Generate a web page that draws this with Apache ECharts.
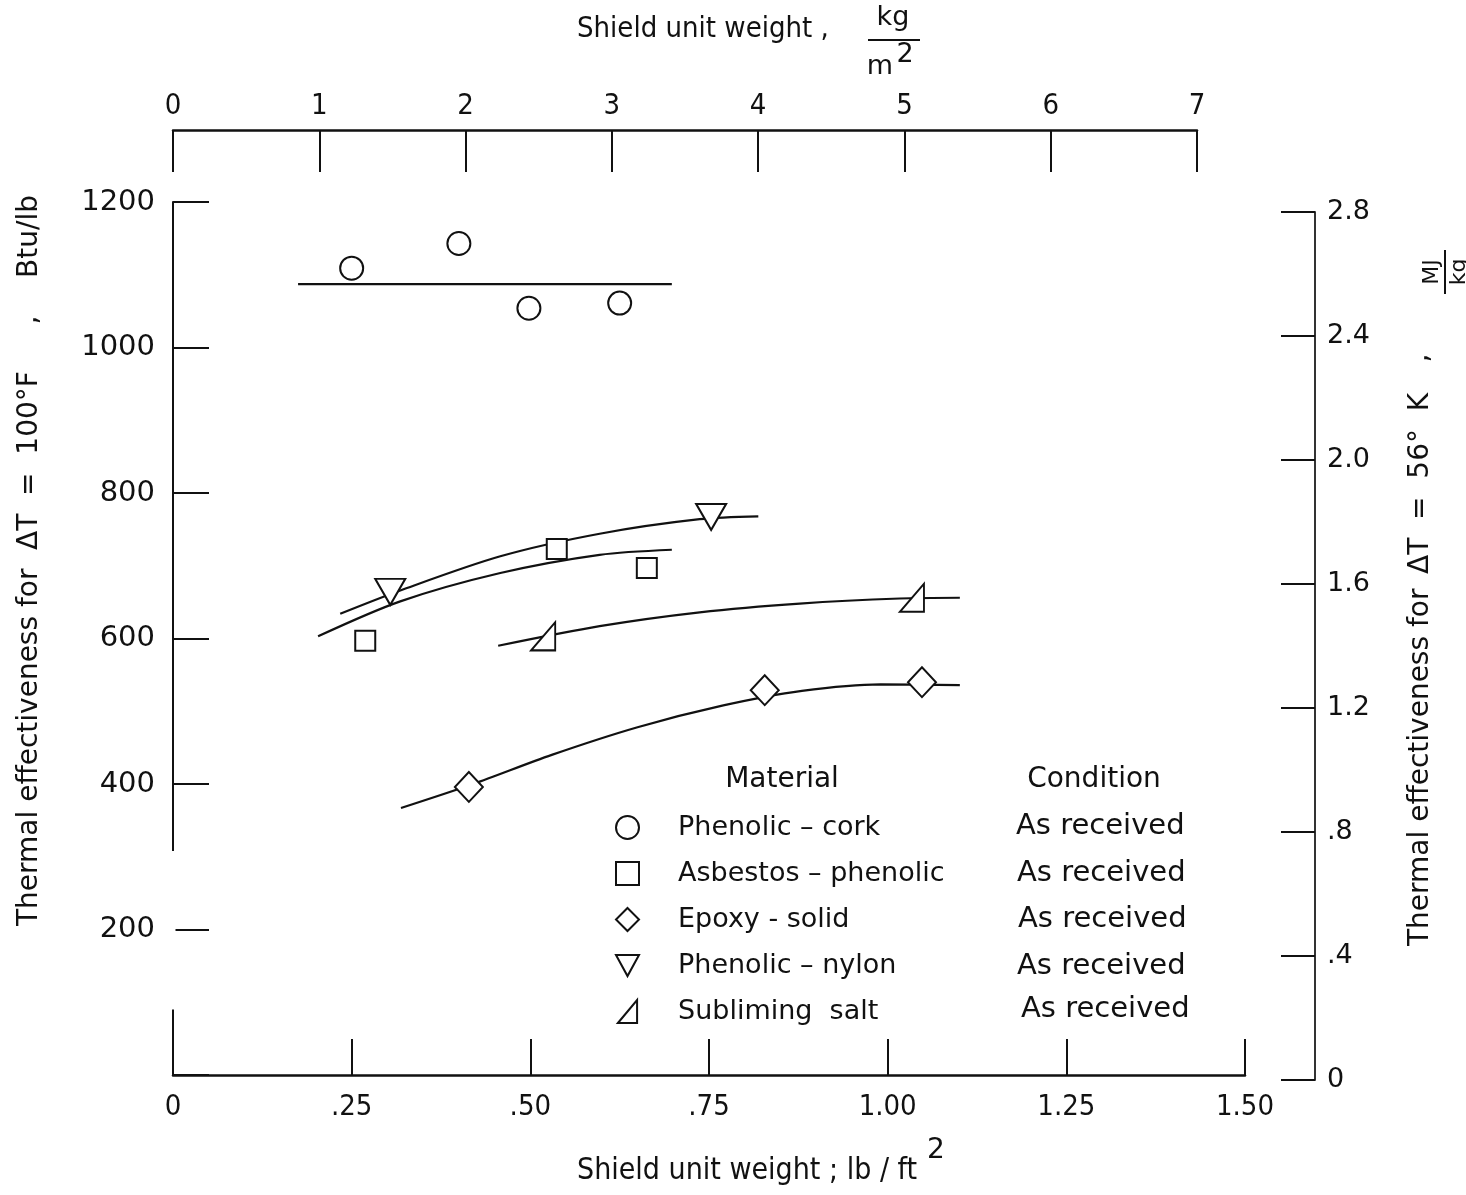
<!DOCTYPE html>
<html>
<head>
<meta charset="utf-8">
<script src="https://cdn.jsdelivr.net/npm/echarts@6/dist/echarts.min.js"></script>
<style>
html,body{margin:0;padding:0;background:#fff;}
#c{width:1466px;height:1195px;}
</style>
</head>
<body>
<div id="c"></div>
<script>
// ---- data (lb/ft^2 , Btu/lb) ----
const corkX = [0.250, 0.400, 0.498, 0.625];
const corkY = [1109, 1143, 1054, 1061];
const corkFitX = [0.175, 0.698];
const corkFitY = [1087, 1087];

const asbestosX = [0.269, 0.537, 0.663];
const asbestosY = [597, 723, 697];
const asbestosFitX = [0.203, 0.318, 0.458, 0.597, 0.698];
const asbestosFitY = [603, 651, 690, 715, 722];

const epoxyX = [0.414, 0.828, 1.048];
const epoxyY = [396, 529, 540];
const epoxyFitX = [0.319, 0.420, 0.530, 0.650, 0.770, 0.880, 0.990, 1.101];
const epoxyFitY = [367, 400, 440, 478, 508, 528, 537, 536];

const nylonX = [0.304, 0.753];
const nylonY = [664, 767];
const nylonFitX = [0.234, 0.318, 0.458, 0.597, 0.737, 0.819];
const nylonFitY = [634, 666, 713, 744, 764, 768];

const saltX = [0.518, 1.034];
const saltY = [603, 656];
const saltFitX = [0.455, 0.597, 0.737, 0.877, 1.017, 1.101];
const saltFitY = [590, 617, 636, 648, 655, 656];

const materials = ['Phenolic – cork', 'Asbestos – phenolic', 'Epoxy - solid', 'Phenolic – nylon', 'Subliming  salt'];
const conditions = ['As received', 'As received', 'As received', 'As received', 'As received'];

const bottomTicks = ['0', '.25', '.50', '.75', '1.00', '1.25', '1.50'];

const zip = (a, b) => a.map((v, i) => [v, b[i]]);

const NUM = '"DejaVu Sans", sans-serif';
const COND = '"DejaVu Sans Condensed", "Liberation Sans Narrow", "DejaVu Sans", sans-serif';
const BLK = '#111';

const hollow = {color: '#fff', borderColor: BLK, borderWidth: 2, opacity: 1};
const TRI_DOWN = 'path://M0,0 L12,0 L6,11 Z';
const TRI_SALT = 'path://M0,12 L10,0 L10,12 Z';

function scatter(name, x, y, symbol, size) {
  return {type: 'scatter', name, xAxisIndex: 0, yAxisIndex: 0, data: zip(x, y),
    symbol, symbolSize: size, itemStyle: hollow, z: 5, silent: true};
}
function fit(name, x, y) {
  return {type: 'line', name: name + ' fit', xAxisIndex: 0, yAxisIndex: 0, data: zip(x, y),
    smooth: 0.3, showSymbol: false, symbol: 'none', lineStyle: {color: BLK, width: 2.2}, z: 3, silent: true};
}

const chart = echarts.init(document.getElementById('c'), null, {renderer: 'canvas'});

const option = {
  backgroundColor: '#fff',
  animation: false,
  grid: [
    {left: 173, right: 221, top: 202, bottom: 120},
    {left: 173, right: 269, top: 130, height: 60},
    {right: 151, top: 212, bottom: 115, width: 100}
  ],
  xAxis: [
    {gridIndex: 0, type: 'value', min: 0, max: 1.5, interval: 0.25, position: 'bottom',
      axisLine: {onZero: false, lineStyle: {color: BLK, width: 2.5}},
      axisTick: {inside: true, length: 36, lineStyle: {color: BLK, width: 2}},
      axisLabel: {margin: 18, color: BLK, fontFamily: COND, fontSize: 29,
        formatter: (v) => bottomTicks[Math.round(v / 0.25)]},
      splitLine: {show: false}},
    {gridIndex: 1, type: 'value', min: 0, max: 7, interval: 1, position: 'top',
      axisLine: {onZero: false, lineStyle: {color: BLK, width: 2.5}},
      axisTick: {inside: true, length: 42, lineStyle: {color: BLK, width: 2}},
      axisLabel: {margin: 9, color: BLK, fontFamily: COND, fontSize: 29},
      splitLine: {show: false}},
    {gridIndex: 2, type: 'value', show: false}
  ],
  yAxis: [
    {gridIndex: 0, type: 'value', min: 0, max: 1200, interval: 200, position: 'left',
      axisLine: {show: true, onZero: false, lineStyle: {color: BLK, width: 2}},
      axisTick: {inside: true, length: 36, lineStyle: {color: BLK, width: 2}},
      axisLabel: {margin: 18, color: BLK, fontFamily: NUM, fontSize: 29,
        formatter: (v) => v === 0 ? '' : String(v)},
      splitLine: {show: false}},
    {gridIndex: 1, type: 'value', show: false},
    {gridIndex: 2, type: 'value', min: 0, max: 2.8, interval: 0.4, position: 'right',
      axisLine: {show: true, onZero: false, lineStyle: {color: '#333', width: 2}},
      axisTick: {inside: true, length: 34, lineStyle: {color: BLK, width: 2}},
      axisLabel: {margin: 12, color: BLK, fontFamily: NUM, fontSize: 27,
        formatter: (v) => {
          const r = Math.round(v * 10) / 10;
          if (r === 0) return '0';
          if (r < 1) return '.' + Math.round(r * 10);
          return r.toFixed(1);
        }},
      splitLine: {show: false}}
  ],
  legend: {
    orient: 'vertical', left: 610, top: 809, itemGap: 19, itemWidth: 23, itemHeight: 23,
    selectedMode: false,
    textStyle: {color: BLK, fontFamily: NUM, fontSize: 27, padding: [0, 0, 0, 34]},
    data: [
      {name: materials[0], icon: 'circle', itemStyle: hollow},
      {name: materials[1], icon: 'rect', itemStyle: hollow},
      {name: materials[2], icon: 'diamond', itemStyle: hollow},
      {name: materials[3], icon: TRI_DOWN, itemStyle: hollow},
      {name: materials[4], icon: TRI_SALT, itemStyle: hollow}
    ]
  },
  series: [
    scatter(materials[0], corkX, corkY, 'circle', 23),
    scatter(materials[1], asbestosX, asbestosY, 'rect', 20),
    scatter(materials[2], epoxyX, epoxyY, 'diamond', [28, 30]),
    scatter(materials[3], nylonX, nylonY, TRI_DOWN, [30, 26]),
    scatter(materials[4], saltX, saltY, TRI_SALT, [24, 28]),
    fit(materials[0], corkFitX, corkFitY),
    fit(materials[1], asbestosFitX, asbestosFitY),
    fit(materials[2], epoxyFitX, epoxyFitY),
    fit(materials[3], nylonFitX, nylonFitY),
    fit(materials[4], saltFitX, saltFitY)
  ]
};
chart.setOption(option);

// decorations: titles, legend headers/conditions, axis break
const T = (text, x, y, size, font, align, extra) => Object.assign({
  type: 'text', x, y, silent: true,
  style: {text, fill: BLK, font: size + 'px ' + font, textAlign: align || 'left', textVerticalAlign: 'middle'}
}, extra || {});

const gapTop = chart.convertToPixel({xAxisIndex: 0, yAxisIndex: 0}, [0, 308]);
const gapBot = chart.convertToPixel({xAxisIndex: 0, yAxisIndex: 0}, [0, 90]);

const condY = [826, 873, 919, 966, 1009];
const condXs = [1016, 1017, 1018, 1017, 1021];
const condRows = conditions.map((c, i) => T(c, condXs[i], condY[i], 29, NUM, 'left'));

chart.setOption({
  graphic: [
    // axis break in the left axis
    {type: 'line', silent: true, shape: {x1: gapTop[0], y1: gapTop[1], x2: gapBot[0], y2: gapBot[1]},
      style: {stroke: '#fff', lineWidth: 5}, z: 100},
    // top title
    T('Shield unit weight ,', 577, 29, 29, COND, 'left'),
    T('kg', 893, 18, 27, NUM, 'center'),
    {type: 'line', silent: true, shape: {x1: 868, y1: 40, x2: 920, y2: 40}, style: {stroke: BLK, lineWidth: 2}},
    T('m', 880, 67, 27, NUM, 'center'),
    T('2', 905, 55, 27, NUM, 'center'),
    // bottom title
    T('Shield unit weight ; lb / ft', 577, 1171, 30, COND, 'left'),
    T('2', 936, 1151, 28, NUM, 'center'),
    // left title
    {type: 'group', x: 30, y: 926, rotation: Math.PI / 2, silent: true, children: [
      T('Thermal effectiveness for', 0, 0, 28, NUM, 'left'),
      T('ΔT  =  100°F', 376, 0, 28, NUM, 'left'),
      T(',', 606, 0, 28, NUM, 'center'),
      T('Btu/lb', 731, 0, 28, NUM, 'right')
    ]},
    // right title
    {type: 'group', x: 1421, y: 946, rotation: Math.PI / 2, silent: true, children: [
      T('Thermal effectiveness for', 0, 0, 28, NUM, 'left'),
      T('ΔT  =  56°  K', 372, 0, 28, NUM, 'left'),
      T(',', 588, 0, 28, NUM, 'center'),
      T('MJ', 674, 11, 22, NUM, 'center'),
      {type: 'line', shape: {x1: 652, y1: 24, x2: 696, y2: 24}, style: {stroke: BLK, lineWidth: 2}},
      T('kg', 674, 38, 22, NUM, 'center')
    ]},
    // legend headers
    T('Material', 782, 780, 28, NUM, 'center'),
    T('Condition', 1094, 780, 28, NUM, 'center')
  ].concat(condRows)
});
</script>
</body>
</html>
